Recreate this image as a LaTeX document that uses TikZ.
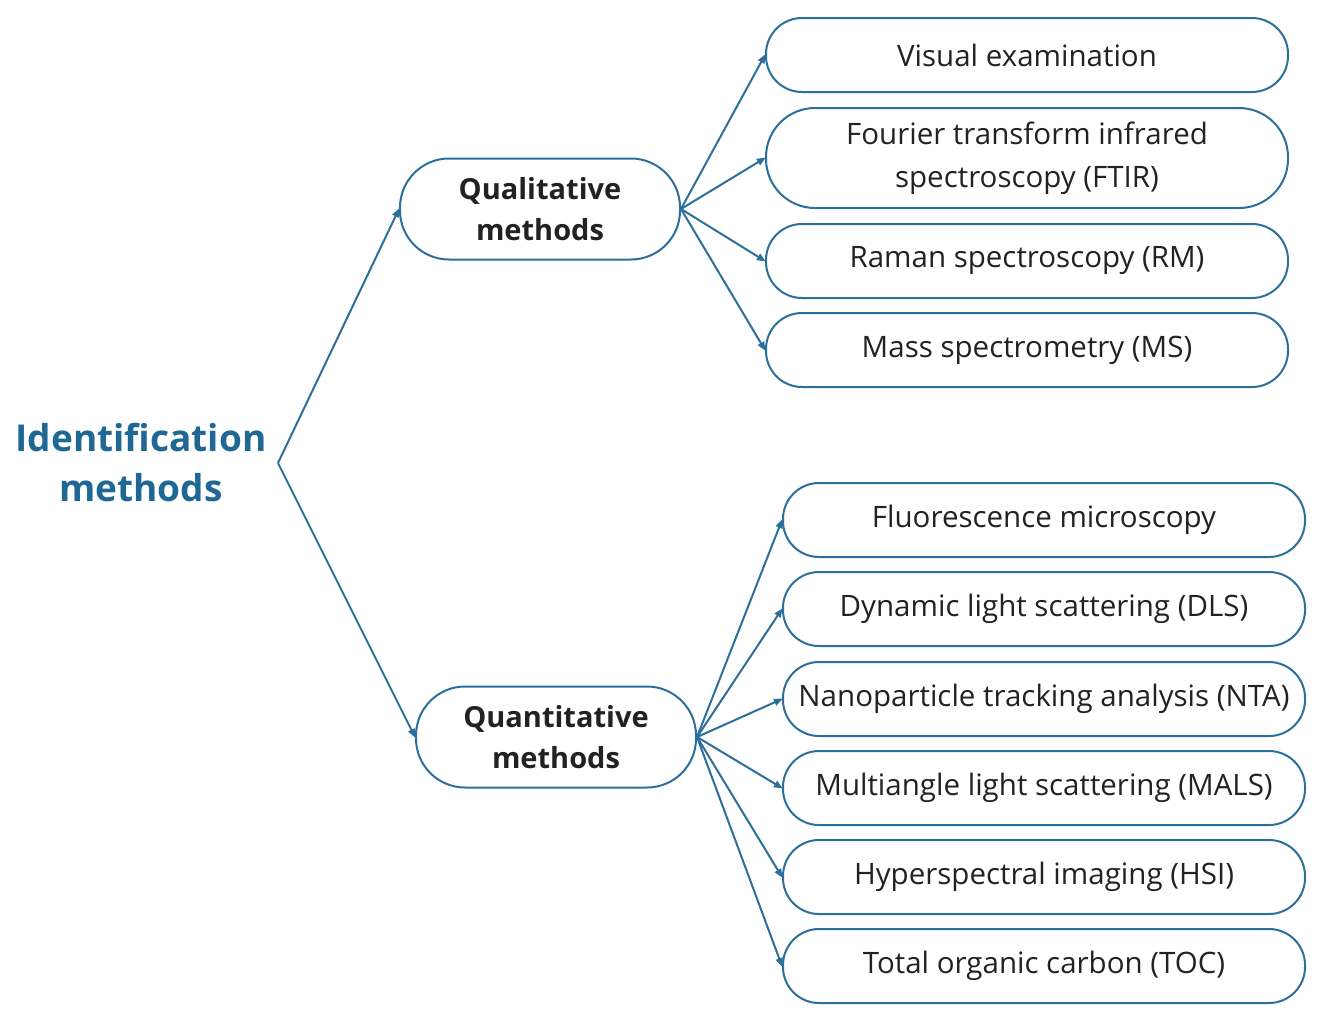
\documentclass[tikz,border=0pt]{standalone}
\usepackage{fontspec}
\setmainfont{Open Sans}
\usetikzlibrary{arrows.meta}
\definecolor{lineblue}{HTML}{2C6F9A}
\definecolor{titleblue}{HTML}{1F6794}
\definecolor{txt}{HTML}{222222}
\begin{document}
\begin{tikzpicture}[x=1pt,y=-1pt,
  leaf/.style={draw=lineblue, line width=2pt, rounded corners=36pt, minimum width=522pt, minimum height=74pt,
    align=center, text=txt, font=\fontsize{29.5}{43}\selectfont, inner sep=0pt},
  tall/.style={leaf, minimum height=100pt, rounded corners=49pt},
  mid/.style={draw=lineblue, line width=2pt, rounded corners=49pt, minimum width=280pt, minimum height=101pt,
    align=center, text=txt, font=\fontsize{29}{41}\bfseries\selectfont, inner sep=0pt},
  conn/.style={draw=lineblue, line width=2pt, -{Triangle[length=9pt,width=7pt]}, shorten >=-1pt}
]
\useasboundingbox (0,0) rectangle (1321,1021);
\node[align=center, text=titleblue, font=\fontsize{37}{50}\bfseries\selectfont] (title) at (141,463) {Identification\\methods};
\coordinate (apex) at (278,463);

\node[mid] (qual) at (540,209) {Qualitative\\methods};
\node[mid] (quant) at (556,737) {Quantitative\\methods};

\node[leaf] (v1) at (1027,55) {Visual examination};
\node[tall] (v2) at (1027,158) {Fourier transform infrared\\spectroscopy (FTIR)};
\node[leaf] (v3) at (1027,261) {Raman spectroscopy (RM)};
\node[leaf] (v4) at (1027,350) {Mass spectrometry (MS)};

\node[leaf] (q1) at (1044,520) {Fluorescence microscopy};
\node[leaf] (q2) at (1044,609) {Dynamic light scattering (DLS)};
\node[leaf] (q3) at (1044,699) {Nanoparticle tracking analysis (NTA)};
\node[leaf] (q4) at (1044,788) {Multiangle light scattering (MALS)};
\node[leaf] (q5) at (1044,877) {Hyperspectral imaging (HSI)};
\node[leaf] (q6) at (1044,966) {Total organic carbon (TOC)};

\draw[conn] (apex) -- (qual.west);
\draw[conn] (apex) -- (quant.west);
\foreach \n in {v1,v2,v3,v4} \draw[conn] (qual.east) -- (\n.west);
\foreach \n in {q1,q2,q3,q4,q5,q6} \draw[conn] (quant.east) -- (\n.west);
\end{tikzpicture}
\end{document}
